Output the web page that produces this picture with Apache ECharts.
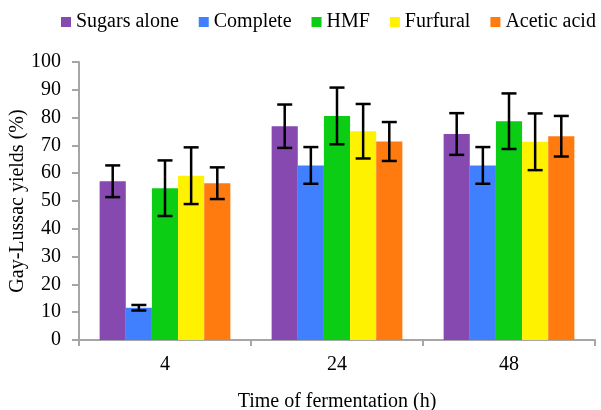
<!DOCTYPE html>
<html>
<head>
<meta charset="utf-8">
<script src="https://cdn.jsdelivr.net/npm/echarts@6/dist/echarts.min.js"></script>
<style>html,body{margin:0;padding:0;background:#fff}#c{width:601px;height:410px}</style>
</head>
<body>
<div id="c"></div>
<script>
var categories = ['4', '24', '48'];
var seriesNames = ['Sugars alone', 'Complete', 'HMF', 'Furfural', 'Acetic acid'];
var sugarsAlone = [57.1, 76.9, 74.1];
var complete = [11.6, 62.8, 62.8];
var hmf = [54.6, 80.6, 78.7];
var furfural = [59.1, 75.1, 71.3];
var aceticAcid = [56.4, 71.4, 73.3];
var errSugarsAlone = [5.7, 7.8, 7.5];
var errComplete = [1.0, 6.6, 6.6];
var errHmf = [10.0, 10.2, 10.0];
var errFurfural = [10.2, 9.8, 10.2];
var errAceticAcid = [5.7, 7.0, 7.3];
var yTicks = [0, 10, 20, 30, 40, 50, 60, 70, 80, 90, 100];

var values = [sugarsAlone, complete, hmf, furfural, aceticAcid];
var errors = [errSugarsAlone, errComplete, errHmf, errFurfural, errAceticAcid];
var colors = ['#8549AF', '#4080FF', '#0ACD14', '#FFF200', '#FF7A0F'];
var FONT = "'Liberation Serif', 'Times New Roman', serif";
var FS = 20;
var GAP = 0.24;

var series = [];
values.forEach(function (vals, i) {
  series.push({
    name: seriesNames[i], type: 'bar', data: vals,
    barGap: '0%', barCategoryGap: (GAP * 100) + '%',
    itemStyle: { color: colors[i] }
  });
});
values.forEach(function (vals, i) {
  series.push({
    type: 'custom', silent: true, z: 10,
    data: vals.map(function (v, k) { return [k, v, errors[i][k]]; }),
    renderItem: function (params, api) {
      var cat = api.value(0), v = api.value(1), e = api.value(2);
      var catW = api.size([1, 0])[0];
      var barW = catW * (1 - GAP) / values.length;
      var top = api.coord([cat, v + e]);
      var bot = api.coord([cat, v - e]);
      var x = top[0] + (i - (values.length - 1) / 2) * barW;
      var cap = 7.5;
      var st = { stroke: '#000', lineWidth: 2.5 };
      return { type: 'group', children: [
        { type: 'line', shape: { x1: x, y1: top[1], x2: x, y2: bot[1] }, style: st },
        { type: 'line', shape: { x1: x - cap, y1: top[1], x2: x + cap, y2: top[1] }, style: st },
        { type: 'line', shape: { x1: x - cap, y1: bot[1], x2: x + cap, y2: bot[1] }, style: st }
      ]};
    }
  });
});

var chart = echarts.init(document.getElementById('c'), null, { renderer: 'canvas' });
chart.setOption({
  animation: false,
  textStyle: { fontFamily: FONT },
  legend: {
    data: seriesNames, left: 56, top: 7, icon: 'rect', itemWidth: 10, itemHeight: 10,
    itemGap: 20, textStyle: { fontFamily: FONT, fontSize: FS, color: '#000' }
  },
  grid: { left: 79, right: 6, top: 62, bottom: 70, containLabel: false, outerBoundsMode: 'none' },
  xAxis: {
    type: 'category', data: categories,
    name: 'Time of fermentation (h)', nameLocation: 'middle', nameGap: 52, nameMoveOverlap: false,
    nameTextStyle: { fontFamily: FONT, fontSize: FS, color: '#000' },
    axisLine: { lineStyle: { color: '#A6A6A6', width: 2 } },
    axisTick: { show: true, length: 6, lineStyle: { color: '#A6A6A6', width: 2 } },
    axisLabel: { fontFamily: FONT, fontSize: FS, color: '#000', margin: 15 }
  },
  yAxis: {
    type: 'value', min: 0, max: 100, interval: 10,
    name: 'Gay-Lussac yields (%)', nameLocation: 'middle', nameGap: 51, nameMoveOverlap: false,
    nameTextStyle: { fontFamily: FONT, fontSize: FS, color: '#000' },
    splitLine: { show: false },
    axisLine: { show: true, lineStyle: { color: '#A6A6A6', width: 2 } },
    axisTick: { show: true, length: 7, lineStyle: { color: '#A6A6A6', width: 2 } },
    axisLabel: { fontFamily: FONT, fontSize: FS, color: '#000', margin: 18,
      formatter: function (v) { return yTicks.indexOf(v) >= 0 ? String(v) : ''; } }
  },
  series: series
});
</script>
</body>
</html>
